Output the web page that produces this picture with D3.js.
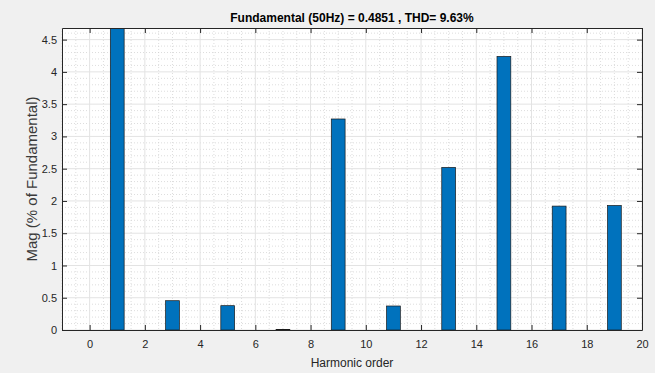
<!DOCTYPE html>
<html>
<head>
<meta charset="utf-8">
<script src="https://cdn.jsdelivr.net/npm/d3@7"></script>
<style>
  body { margin: 0; background: #f0f0f0; }
  svg { display: block; font-family: "Liberation Sans", Arial, sans-serif; }
</style>
</head>
<body>
<div id="chart"></div>
<script>
// harmonic orders and magnitudes (% of fundamental)
const harmonics = [1, 3, 5, 7, 9, 11, 13, 15, 17, 19];
const magnitudes = [100, 0.454, 0.377, 0.01, 3.27, 0.372, 2.52, 4.24, 1.92, 1.93];
const xTicks = [0, 2, 4, 6, 8, 10, 12, 14, 16, 18, 20];
const yTicks = [0, 0.5, 1, 1.5, 2, 2.5, 3, 3.5, 4, 4.5];
const title = "Fundamental (50Hz) = 0.4851 , THD= 9.63%";

const W = 655, H = 373;
const margin = { top: 28, right: 13, bottom: 43, left: 62 };
const width = W - margin.left - margin.right;
const height = H - margin.top - margin.bottom;

const svg = d3.select("#chart").append("svg")
  .attr("width", W).attr("height", H);

svg.append("defs").append("clipPath").attr("id", "clip")
  .append("rect").attr("width", width).attr("height", height);

const g = svg.append("g")
  .attr("transform", "translate(" + margin.left + "," + margin.top + ")");

const x = d3.scaleLinear().domain([-1, 20]).range([0, width]);
const y = d3.scaleLinear().domain([0, 4.68]).range([height, 0]);

g.append("rect").attr("width", width).attr("height", height).attr("fill", "#fff");

// minor grid
g.append("g").selectAll("line")
  .data(d3.range(-1, 20.01, 0.5).filter(v => v % 2 !== 0))
  .enter().append("line")
  .attr("x1", d => x(d)).attr("x2", d => x(d))
  .attr("y1", 0).attr("y2", height)
  .attr("stroke", "#cfcfcf").attr("stroke-width", 0.7).attr("stroke-dasharray", "1,2");
g.append("g").selectAll("line")
  .data(d3.range(0, 4.68, 0.1).map(v => +v.toFixed(1)).filter(v => Math.round(v * 10) % 5 !== 0))
  .enter().append("line")
  .attr("x1", 0).attr("x2", width)
  .attr("y1", d => y(d)).attr("y2", d => y(d))
  .attr("stroke", "#cfcfcf").attr("stroke-width", 0.7).attr("stroke-dasharray", "1,2");

// major grid
g.append("g").selectAll("line").data(xTicks).enter().append("line")
  .attr("x1", d => x(d)).attr("x2", d => x(d))
  .attr("y1", 0).attr("y2", height)
  .attr("stroke", "#e3e3e3").attr("stroke-width", 1);
g.append("g").selectAll("line").data(yTicks).enter().append("line")
  .attr("x1", 0).attr("x2", width)
  .attr("y1", d => y(d)).attr("y2", d => y(d))
  .attr("stroke", "#e3e3e3").attr("stroke-width", 1);

// bars
g.append("g").attr("clip-path", "url(#clip)")
  .selectAll("rect").data(harmonics).enter().append("rect")
  .attr("x", (d) => x(d - 0.25))
  .attr("width", x(0.5) - x(0))
  .attr("y", (d, i) => y(magnitudes[i]))
  .attr("height", (d, i) => height - y(magnitudes[i]))
  .attr("fill", "#0072bd")
  .attr("stroke", "#1a1a1a").attr("stroke-width", 0.7);

// axes
const axisColor = "#262626";
const fmt = d3.format("");
const axBottom = g.append("g").attr("transform", "translate(0," + height + ")")
  .call(d3.axisBottom(x).tickValues(xTicks).tickSizeInner(-5).tickSizeOuter(0).tickPadding(10).tickFormat(fmt));
const axTop = g.append("g")
  .call(d3.axisTop(x).tickValues(xTicks).tickSizeInner(-5).tickSizeOuter(0).tickFormat(""));
const axLeft = g.append("g")
  .call(d3.axisLeft(y).tickValues(yTicks).tickSizeInner(-5).tickSizeOuter(0).tickPadding(5).tickFormat(fmt));
const axRight = g.append("g").attr("transform", "translate(" + width + ",0)")
  .call(d3.axisRight(y).tickValues(yTicks).tickSizeInner(-5).tickSizeOuter(0).tickFormat(""));

[axBottom, axTop, axLeft, axRight].forEach(a => {
  a.select(".domain").attr("stroke", axisColor);
  a.selectAll(".tick line").attr("stroke", axisColor);
  a.selectAll("text").attr("fill", axisColor).attr("font-size", 11)
    .attr("font-family", "'Liberation Sans', Arial, sans-serif");
});

// title and labels
svg.append("text")
  .attr("x", margin.left + width / 2).attr("y", 22)
  .attr("text-anchor", "middle")
  .attr("font-size", 12).attr("font-weight", "bold").attr("fill", "#000")
  .text(title);

svg.append("text")
  .attr("x", margin.left + width / 2).attr("y", 367)
  .attr("text-anchor", "middle")
  .attr("font-size", 12).attr("fill", axisColor)
  .text("Harmonic order");

svg.append("text")
  .attr("transform", "translate(37," + (margin.top + height / 2) + ") rotate(-90)")
  .attr("text-anchor", "middle")
  .attr("font-size", 15).attr("fill", "#3a3a3a")
  .text("Mag (% of Fundamental)");
</script>
</body>
</html>
